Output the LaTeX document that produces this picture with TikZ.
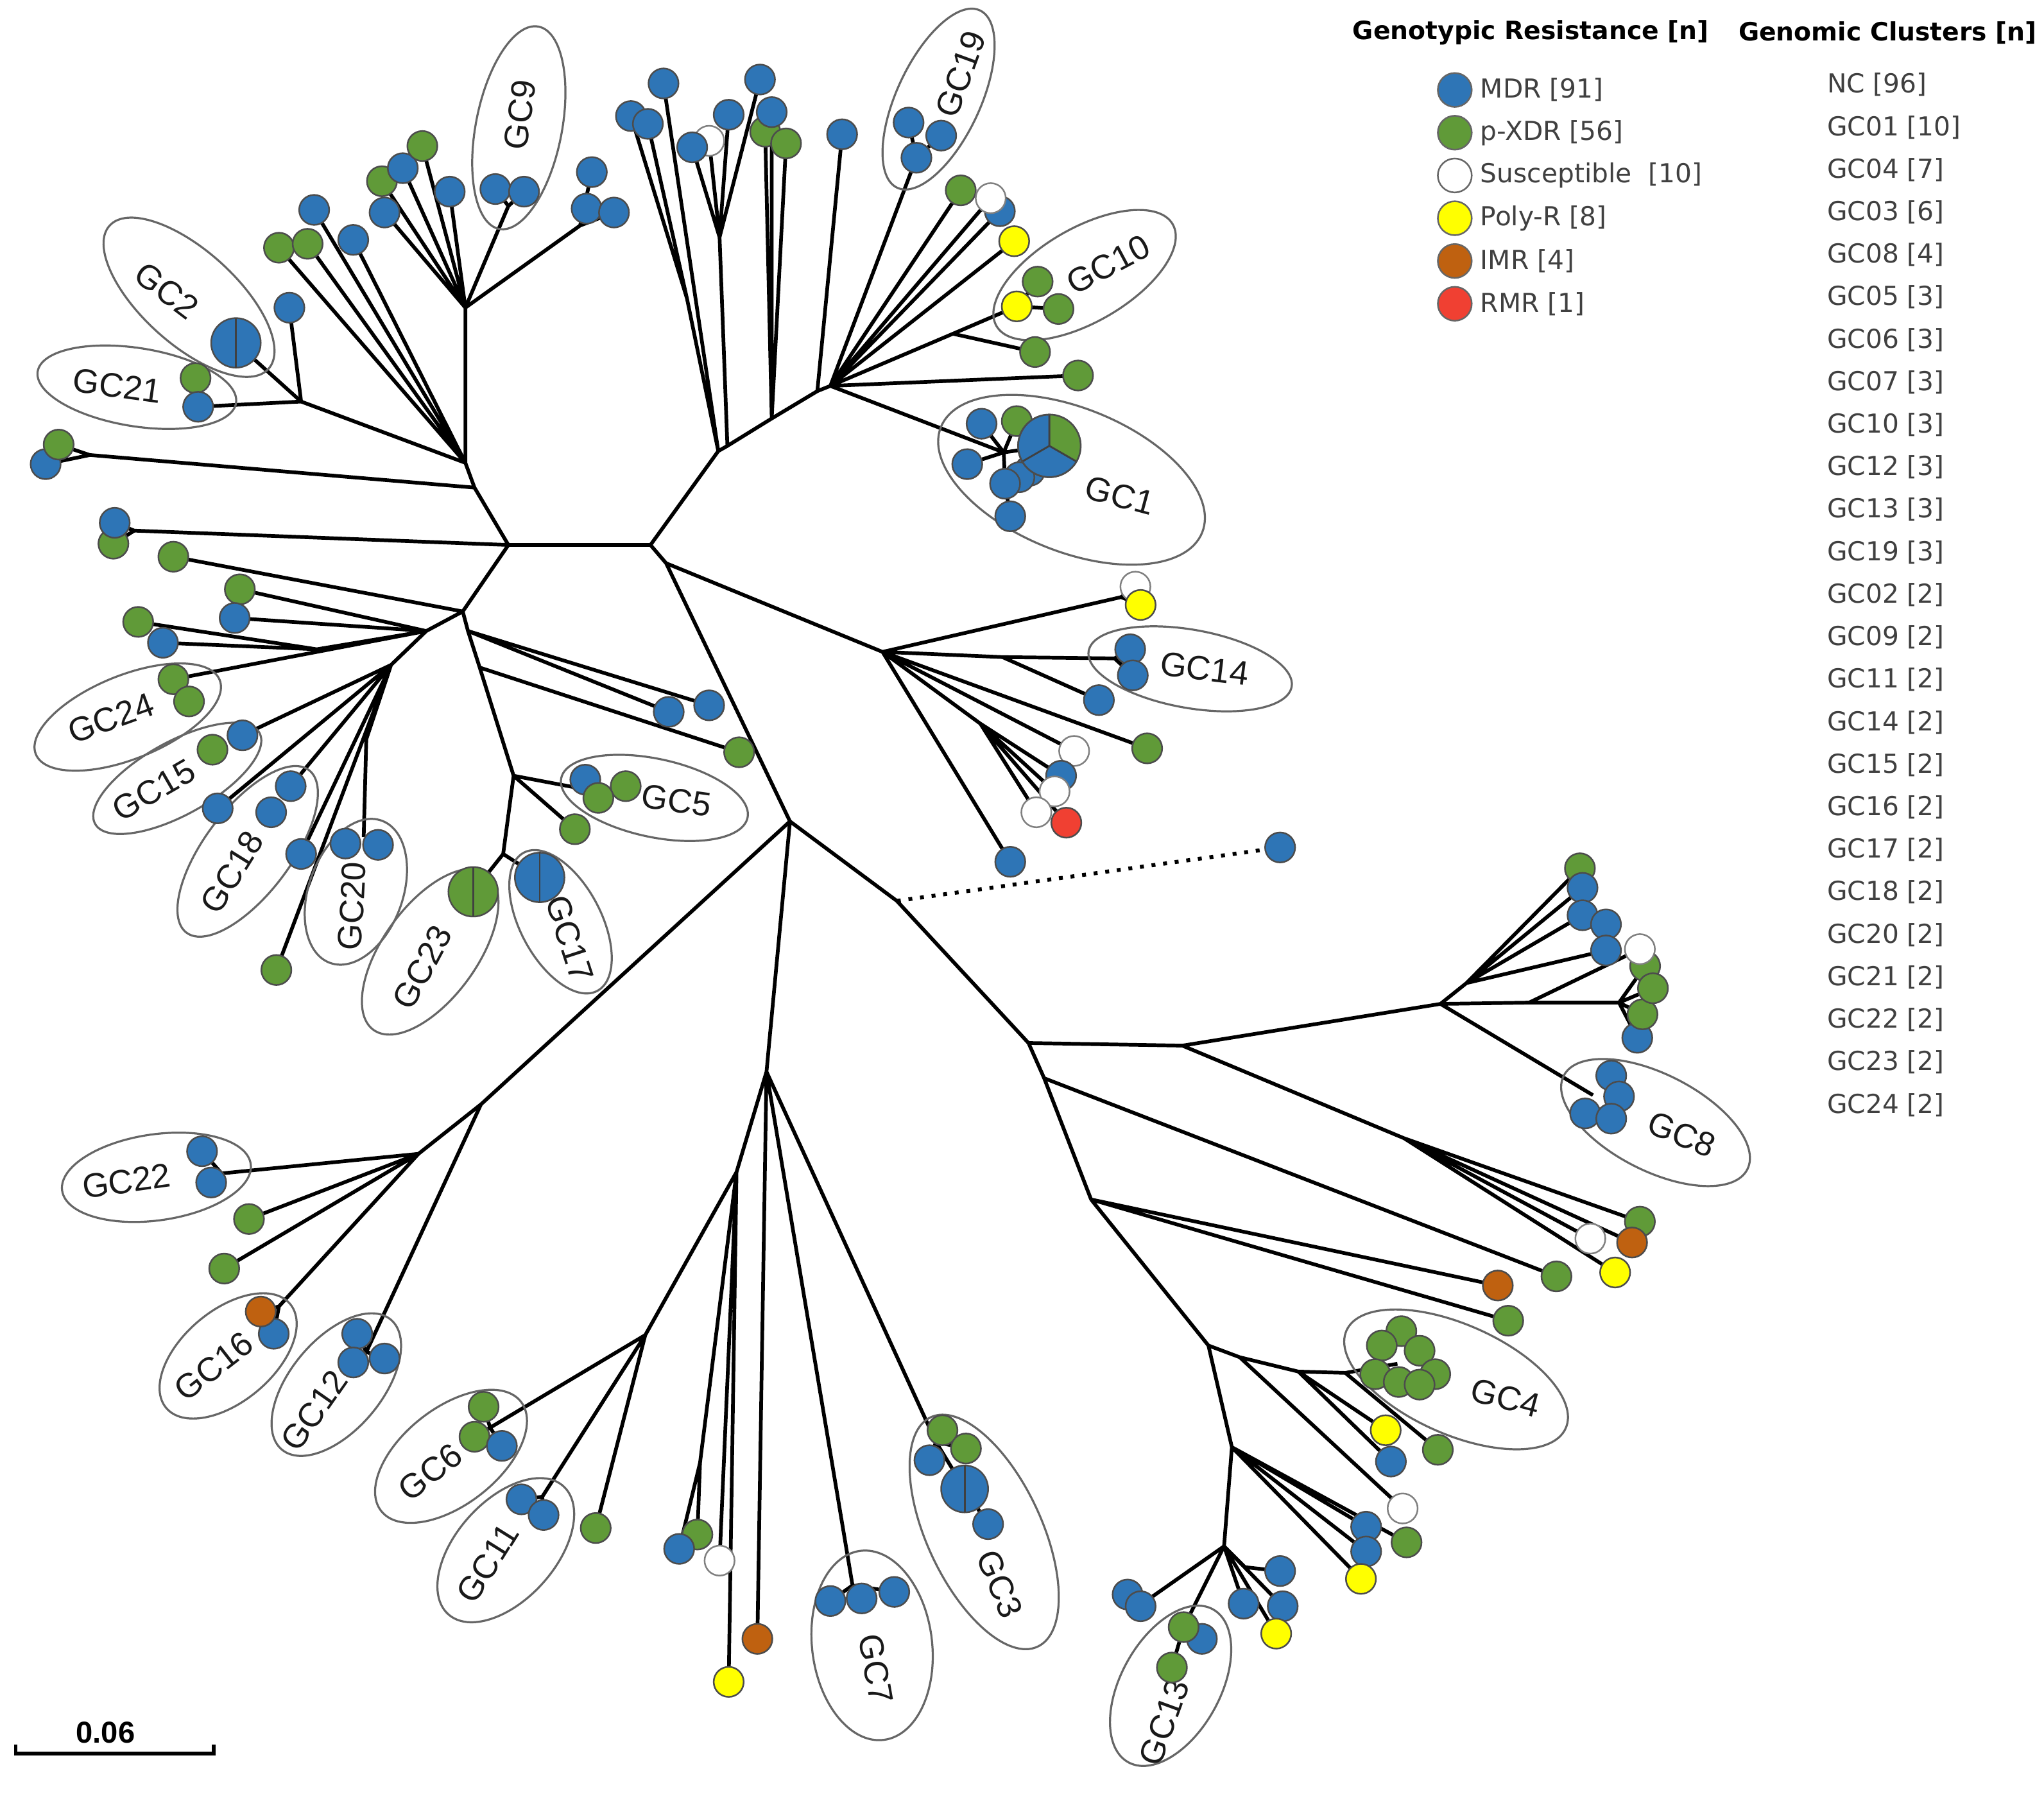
\documentclass[tikz,border=0pt]{standalone}
\usepackage{fontspec}
\setmainfont{Liberation Sans}
\newfontfamily\legfont{DejaVu Sans}
\usetikzlibrary{shapes.geometric,calc}
\pgfdeclarelayer{edgelayer}
\pgfsetlayers{edgelayer,main}
\definecolor{mdr}{RGB}{46,117,182}
\definecolor{pxdr}{RGB}{96,154,56}
\definecolor{polyr}{RGB}{255,255,0}
\definecolor{imr}{RGB}{191,97,16}
\definecolor{rmr}{RGB}{240,64,50}
\begin{document}
\begin{tikzpicture}[x=0.01cm,y=-0.01cm,
  tip/.style={circle,draw=black!70,line width=0.35pt,minimum size=0.23cm,inner sep=0pt,outer sep=0pt},
  mdrtip/.style={tip,fill=mdr},
  xdrtip/.style={tip,fill=pxdr},
  sustip/.style={tip,fill=white,draw=black!50},
  polytip/.style={tip,fill=polyr},
  imrtip/.style={tip,fill=imr},
  rmrtip/.style={tip,fill=rmr},
  pienode/.style={circle,draw=black!70,line width=0.35pt,inner sep=0pt,outer sep=0pt},
  divider/.style={black!75,line width=0.4pt},
  br/.style={line width=0.8pt,black},
  gcring/.style={draw=black!60,line width=0.45pt},
  gclab/.style={font=\fontsize{7.4}{8}\selectfont,text=black!90,inner sep=0pt},
  legdot/.style={circle,draw=black!60,line width=0.35pt,minimum size=0.26cm,inner sep=0pt},
  legtxt/.style={font=\legfont\fontsize{5.7}{6.5}\selectfont,text=black!75,anchor=west,inner sep=0pt},
  legtitle/.style={font=\legfont\bfseries\fontsize{5.5}{6.5}\selectfont,text=black,anchor=west,inner sep=0pt},
]
\useasboundingbox (0,0) rectangle (1568,1376);

% ---------------- cluster ellipses (drawn shapes) ----------------
\foreach \cx/\cy/\rx/\ry/\ang in {
  398/98/0.79/0.33/79, 145/228/0.82/0.36/-42, 105/297/0.77/0.30/-9,
  720/76/0.75/0.32/65, 832/211/0.78/0.36/30, 822/368/1.08/0.55/-22,
  913/513/0.79/0.30/-10, 502/612/0.73/0.30/-12, 430/707/0.60/0.31/-62,
  330/730/0.74/0.36/54, 273/684/0.58/0.36/70, 190/653/0.78/0.33/53,
  136/597/0.72/0.28/29, 98/550/0.76/0.32/22, 120/903/0.73/0.33/8,
  175/1040/0.62/0.35/40, 258/1062/0.65/0.35/50, 346/1117/0.68/0.37/38,
  388/1189/0.66/0.38/48, 669/1262/0.73/0.46/-83, 755/1175/0.97/0.44/-65,
  898/1293/0.67/0.38/61, 1270/861/0.79/0.37/-27, 1117/1058/0.92/0.42/-24}
{\draw[gcring,rotate around={\ang:(\cx,\cy)}] (\cx,\cy) ellipse[x radius=\rx cm,y radius=\ry cm];}

\foreach \nm/\lx/\ly/\la in {
  GC9/399/88/82, GC2/128/223/-37, GC21/90/296/-8, GC19/737/57/70, GC10/850/203/28,
  GC1/859/380/-15, GC14/924/513/-7, GC5/519/614/-8, GC17/437/720/-72, GC23/324/742/62,
  GC20/270/695/87, GC18/178/669/58, GC15/118/606/30, GC24/85/551/20, GC22/97/906/8,
  GC16/164/1048/38, GC12/241/1082/55, GC6/330/1129/38, GC11/374/1199/58, GC7/672/1280/-80,
  GC3/767/1215/-68, GC13/893/1321/70, GC8/1290/870/-22, GC4/1155/1072/-15}
{\node[gclab,rotate=\la] (l\nm) at (\lx,\ly) {\nm};}

% ---------------- internal vertices ----------------
\coordinate (h1a) at (357,236); \coordinate (s9) at (390,158); \coordinate (s8x) at (445,173);
\coordinate (h1) at (357,355); \coordinate (s2) at (231,308); \coordinate (slp) at (69,349);
\coordinate (h1b) at (364,374); \coordinate (n1) at (390,418); \coordinate (lp2) at (103,407);
\coordinate (n3) at (355,469); \coordinate (s25) at (243,498); \coordinate (n4) at (327,484);
\coordinate (n5) at (300,510); \coordinate (s20) at (281,567); \coordinate (s20b) at (279,642);
\coordinate (n3b) at (359,484); \coordinate (n3c) at (368,512); \coordinate (n6) at (394,595);
\coordinate (s5) at (452,606); \coordinate (n7) at (386,655);
\coordinate (n2) at (499,418); \coordinate (n8) at (551,346); \coordinate (t1c) at (527,229);
\coordinate (p1) at (558,342); \coordinate (t2c) at (552,182); \coordinate (p2) at (592,321);
\coordinate (n10) at (627,300); \coordinate (n11) at (637,296); \coordinate (s10b) at (731,256);
\coordinate (s1) at (770,347);
\coordinate (n9) at (511,432); \coordinate (n14) at (677,500); \coordinate (s14a) at (860,458);
\coordinate (s14b) at (855,505); \coordinate (s14c) at (769,504); \coordinate (p7) at (752,555);
\coordinate (n15) at (606,630); \coordinate (n15b) at (688,691); \coordinate (n16) at (789,800);
\coordinate (n23) at (907,802); \coordinate (n22) at (1105,770); \coordinate (s8a) at (1125,754);
\coordinate (s8b) at (1173,769); \coordinate (s8c) at (1242,769); \coordinate (s8d) at (1222,840);
\coordinate (n25) at (1077,873); \coordinate (n26) at (801,827); \coordinate (n24) at (837,920);
\coordinate (n27) at (927,1032); \coordinate (p3) at (951,1041); \coordinate (p4) at (996,1052);
\coordinate (p5) at (1032,1053); \coordinate (gc4h) at (1072,1046); \coordinate (p6) at (945,1110);
\coordinate (n28) at (939,1186); \coordinate (s13a) at (955,1202); \coordinate (s13b) at (882,1226);
\coordinate (n18) at (588,822); \coordinate (n18a) at (565,899); \coordinate (sb) at (537,1122);
\coordinate (s7) at (654,1216); \coordinate (s3) at (718,1106); \coordinate (n21) at (495,1024);
\coordinate (s6) at (376,1095); \coordinate (s11) at (416,1148); \coordinate (n19) at (369,847);
\coordinate (n20) at (321,885); \coordinate (s22) at (170,900); \coordinate (s16) at (214,1002);
\coordinate (s12) at (281,1037);

% ---------------- tips ----------------
% upper-left fan
\node[xdrtip] (t1) at (293,139) {};
\node[mdrtip] (t2) at (295,163) {};
\node[mdrtip] (t3) at (309,129) {};
\node[xdrtip] (t4) at (324,112) {};
\node[mdrtip] (t5) at (345,147) {};
\node[mdrtip] (t6) at (380,145) {};
\node[mdrtip] (t7) at (402,147) {};
\node[mdrtip] (t8) at (454,132) {};
\node[mdrtip] (t9) at (450,160) {};
\node[mdrtip] (t10) at (471,163) {};
\node[mdrtip] (t11) at (241,161) {};
\node[xdrtip] (t12) at (214,190) {};
\node[xdrtip] (t13) at (236,187) {};
\node[mdrtip] (t14) at (271,184) {};
\node[mdrtip] (t15) at (222,236) {};
\node[xdrtip] (t16) at (150,290) {};
\node[mdrtip] (t17) at (152,312) {};
\node[mdrtip] (t19) at (35,356) {};
\node[xdrtip] (t18) at (45,341) {};
% left fan
\node[xdrtip] (t21) at (87,417) {};
\node[mdrtip] (t20) at (88,401) {};
\node[xdrtip] (t22) at (133,427) {};
\node[xdrtip] (t23) at (184,452) {};
\node[mdrtip] (t24) at (180,474) {};
\node[xdrtip] (t25) at (106,477) {};
\node[mdrtip] (t26) at (125,493) {};
\node[xdrtip] (t27) at (133,521) {};
\node[xdrtip] (t28) at (145,538) {};
\node[mdrtip] (t29) at (186,564) {};
\node[xdrtip] (t30) at (163,575) {};
\node[mdrtip] (t31) at (167,620) {};
\node[mdrtip] (t32) at (223,603) {};
\node[mdrtip] (t33) at (208,623) {};
\node[mdrtip] (t34) at (231,655) {};
\node[mdrtip] (t35) at (265,647) {};
\node[mdrtip] (t36) at (290,648) {};
\node[xdrtip] (t37) at (212,744) {};
% middle
\node[mdrtip] (t38) at (513,546) {};
\node[mdrtip] (t39) at (544,541) {};
\node[xdrtip] (t40) at (567,577) {};
\node[mdrtip] (t41) at (449,598) {};
\node[xdrtip] (t43) at (480,603) {};
\node[xdrtip] (t42) at (459,612) {};
\node[xdrtip] (t44) at (441,636) {};
% top fan
\node[mdrtip] (t45) at (484,89) {};
\node[mdrtip] (t46) at (497,95) {};
\node[mdrtip] (t47) at (509,64) {};
\node[sustip] (t49) at (544,108) {};
\node[mdrtip] (t48) at (531,113) {};
\node[mdrtip] (t50) at (559,88) {};
\node[mdrtip] (t51) at (583,61) {};
\node[xdrtip] (t53) at (587,101) {};
\node[mdrtip] (t52) at (592,86) {};
\node[xdrtip] (t54) at (603,110) {};
\node[mdrtip] (t55) at (646,103) {};
\node[mdrtip] (t56) at (697,94) {};
\node[mdrtip] (t57) at (722,104) {};
\node[mdrtip] (t58) at (703,121) {};
\node[xdrtip] (t59) at (737,146) {};
\node[mdrtip] (t61) at (767,162) {};
\node[sustip] (t60) at (760,152) {};
\node[polytip] (t62) at (778,185) {};
\node[xdrtip] (t64) at (796,216) {};
\node[polytip] (t63) at (780,235) {};
\node[xdrtip] (t65) at (812,237) {};
\node[xdrtip] (t66) at (794,270) {};
\node[xdrtip] (t67) at (827,288) {};
% GC1
\node[mdrtip] (t68) at (753,325) {};
\node[xdrtip] (t69) at (780,323) {};
\node[mdrtip] (t70) at (742,356) {};
\node[mdrtip] (t73) at (790,361) {};
\node[mdrtip] (t72) at (782,366) {};
\node[pienode,fill=mdr,minimum size=0.48cm] (gc1pie) at (805,342) {};
\fill[pxdr] (gc1pie.center) -- (gc1pie.90) arc[start angle=90,end angle=-30,radius=0.24cm] -- cycle;
\draw[divider] (gc1pie.center) -- (gc1pie.90) (gc1pie.center) -- (gc1pie.-30) (gc1pie.center) -- (gc1pie.210);
\draw[black!70,line width=0.35pt] (gc1pie.center) circle[radius=0.24cm];
\node[mdrtip] (t71) at (771,371) {};
\node[mdrtip] (t74) at (775,396) {};
% GC14 fan
\node[sustip] (t75) at (871,450) {};
\node[polytip] (t76) at (875,464) {};
\node[mdrtip] (t77) at (867,498) {};
\node[mdrtip] (t78) at (869,518) {};
\node[mdrtip] (t79) at (843,537) {};
\node[xdrtip] (t80) at (880,574) {};
\node[sustip] (t81) at (824,576) {};
\node[mdrtip] (t82) at (814,595) {};
\node[sustip] (t83) at (809,607) {};
\node[sustip] (t84) at (795,623) {};
\node[rmrtip] (t85) at (818,631) {};
\node[mdrtip] (t86) at (775,661) {};
\node[mdrtip] (t87) at (982,650) {};
% GC8 side
\node[xdrtip] (t88) at (1212,666) {};
\node[mdrtip] (t89) at (1214,681) {};
\node[mdrtip] (t90) at (1214,702) {};
\node[mdrtip] (t91) at (1232,709) {};
\node[mdrtip] (t92) at (1232,729) {};
\node[mdrtip] (t97) at (1256,796) {};
\node[xdrtip] (t96) at (1260,778) {};
\node[xdrtip] (t94) at (1262,741) {};
\node[xdrtip] (t95) at (1268,758) {};
\node[sustip] (t93) at (1258,728) {};
\node[mdrtip] (t98) at (1236,825) {};
\node[mdrtip] (t99) at (1242,841) {};
\node[mdrtip] (t100) at (1216,854) {};
\node[mdrtip] (t101) at (1236,858) {};
\node[xdrtip] (t102) at (1258,937) {};
\node[imrtip] (t104) at (1252,953) {};
\node[sustip] (t103) at (1220,950) {};
\node[polytip] (t105) at (1239,976) {};
\node[xdrtip] (t106) at (1194,979) {};
\node[imrtip] (t107) at (1149,986) {};
\node[xdrtip] (t108) at (1157,1013) {};
% GC4 side
\node[xdrtip] (g41) at (1075,1021) {};
\node[xdrtip] (g42) at (1060,1032) {};
\node[xdrtip] (g43) at (1089,1036) {};
\node[xdrtip] (g44) at (1101,1054) {};
\node[xdrtip] (g45) at (1055,1054) {};
\node[xdrtip] (g46) at (1073,1060) {};
\node[xdrtip] (g47) at (1089,1062) {};
\node[sustip] (t109) at (1076,1157) {};
\node[mdrtip] (t111) at (1067,1121) {};
\node[polytip] (t110) at (1063,1097) {};
\node[xdrtip] (t112) at (1103,1112) {};
\node[mdrtip] (t113) at (1048,1171) {};
\node[mdrtip] (t114) at (1048,1190) {};
\node[xdrtip] (t115) at (1079,1183) {};
\node[polytip] (t116) at (1044,1211) {};
% GC13 fan
\node[mdrtip] (t117) at (982,1205) {};
\node[mdrtip] (t118) at (954,1230) {};
\node[mdrtip] (t119) at (984,1232) {};
\node[polytip] (t120) at (979,1253) {};
\node[mdrtip] (t121) at (865,1223) {};
\node[mdrtip] (t122) at (875,1232) {};
\node[mdrtip] (t124) at (922,1257) {};
\node[xdrtip] (t123) at (908,1248) {};
\node[xdrtip] (t125) at (899,1279) {};
% bottom fan
\node[xdrtip] (t127) at (535,1177) {};
\node[mdrtip] (t126) at (521,1188) {};
\node[sustip] (t128) at (552,1197) {};
\node[polytip] (t129) at (559,1290) {};
\node[imrtip] (t130) at (581,1257) {};
\node[mdrtip] (t131) at (637,1228) {};
\node[mdrtip] (t132) at (661,1226) {};
\node[mdrtip] (t133) at (686,1221) {};
\node[xdrtip] (t134) at (723,1097) {};
\node[xdrtip] (t135) at (741,1111) {};
\node[mdrtip] (t136) at (713,1120) {};
\node[pienode,fill=mdr,minimum size=0.36cm] (gc3pie) at (740,1142) {};
\draw[divider] (gc3pie.north) -- (gc3pie.south);
\node[mdrtip] (t137) at (758,1169) {};
% GC6 / GC11
\node[xdrtip] (t138) at (371,1079) {};
\node[xdrtip] (t139) at (364,1102) {};
\node[mdrtip] (t140) at (385,1109) {};
\node[mdrtip] (t141) at (400,1150) {};
\node[mdrtip] (t142) at (417,1162) {};
\node[xdrtip] (t143) at (457,1172) {};
% GC22 / GC16 / GC12
\node[mdrtip] (t144) at (155,883) {};
\node[mdrtip] (t145) at (162,907) {};
\node[xdrtip] (t146) at (191,935) {};
\node[xdrtip] (t147) at (172,973) {};
\node[mdrtip] (t149) at (210,1023) {};
\node[imrtip] (t148) at (200,1006) {};
\node[mdrtip] (t150) at (274,1023) {};
\node[mdrtip] (t151) at (271,1045) {};
\node[mdrtip] (t152) at (295,1042) {};
% pies
\node[pienode,fill=mdr,minimum size=0.38cm] (gc2pie) at (181,263) {};
\draw[divider] (gc2pie.north) -- (gc2pie.south);
\node[pienode,fill=pxdr,minimum size=0.38cm] (gc23pie) at (363,684) {};
\draw[divider] (gc23pie.north) -- (gc23pie.south);
\node[pienode,fill=mdr,minimum size=0.38cm] (gc17pie) at (414,673) {};
\draw[divider] (gc17pie.north) -- (gc17pie.south);

% ---------------- branches ----------------
\begin{pgfonlayer}{edgelayer}
\draw[br]
  (h1a) -- (t1) (h1a) -- (t2) (h1a) -- (t3) (h1a) -- (t4) (h1a) -- (t5)
  (h1a) -- (s9) (s9) -- (t6) (s9) -- (t7)
  (h1a) -- (s8x) (s8x) -- (t8) (s8x) -- (t9) (s8x) -- (t10)
  (h1) -- (h1a) (h1) -- (t11) (h1) -- (t12) (h1) -- (t13) (h1) -- (t14)
  (h1) -- (s2) (s2) -- (gc2pie) (s2) -- (t15) (s2) -- (t17)
  (h1) -- (h1b) (h1b) -- (slp) (slp) -- (t18) (slp) -- (t19) (h1b) -- (n1)
  (n1) -- (lp2) (lp2) -- (t20) (lp2) -- (t21)
  (n1) -- (n3) (n3) -- (t22) (n3) -- (n4) (n4) -- (n5)
  (n4) -- (t23) (n4) -- (t24) (n4) -- (s25) (s25) -- (t25) (s25) -- (t26) (n4) -- (t27)
  (n5) -- (t29) (n5) -- (t31) (n5) -- (t32) (n5) -- (t34) (n5) -- (s20) -- (s20b) (n5) -- (t37)
  (n3) -- (n3b) -- (n3c) -- (n6) (n3b) -- (t38) (n3b) -- (t39) (n3c) -- (t40)
  (n6) -- (s5) (n6) -- (t44) (n6) -- (n7) (n7) -- (gc23pie) (n7) -- (gc17pie)
  (n1) -- (n2) (n2) -- (n8) (n8) -- (p1) -- (p2) -- (n10) -- (n11)
  (n8) -- (t1c) (t1c) -- (t45) (t1c) -- (t46) (n8) -- (t47)
  (p1) -- (t2c) (t2c) -- (t48) (t2c) -- (t49) (t2c) -- (t50) (t2c) -- (t51)
  (p2) -- (t52) (p2) -- (t53) (p2) -- (t54) (n10) -- (t55)
  (n11) -- (t58) (t58) -- (t56) (t58) -- (t57)
  (n11) -- (t59) (n11) -- (t60) (n11) -- (t61) (n11) -- (t62)
  (n11) -- (s10b) -- (t63) (t63) -- (t65) (t63) -- (t64) (s10b) -- (t66) (n11) -- (t67)
  (n11) -- (s1) (s1) -- (t68) (s1) -- (t69) (s1) -- (t70) (s1) -- (gc1pie) (s1) -- (t71) (t71) -- (t74)
  (n2) -- (n9) (n9) -- (n14) (n9) -- (n15)
  (n14) -- (s14a) (s14a) -- (t75) (s14a) -- (t76)
  (n14) -- (s14c) -- (s14b) (s14b) -- (t77) (s14b) -- (t78) (s14c) -- (t79)
  (n14) -- (t80) (n14) -- (t81) (n14) -- (p7) (p7) -- (t82) (p7) -- (t83) (p7) -- (t84) (p7) -- (t85)
  (n14) -- (t86)
  (n15) -- (n15b) -- (n16) (n16) -- (n23) -- (n22)
  (n22) -- (s8a) (s8a) -- (t88) (s8a) -- (t89) (s8a) -- (t90) (s8a) -- (t92)
  (n22) -- (s8b) (s8b) -- (t93) (s8b) -- (s8c) (s8c) -- (t94) (s8c) -- (t95) (s8c) -- (t96) (s8c) -- (t97)
  (n22) -- (s8d)
  (n23) -- (n25) (n25) -- (t102) (n25) -- (t103) (n25) -- (t104) (n25) -- (t105)
  (n16) -- (n26) (n26) -- (t106) (n26) -- (n24) (n24) -- (t107) (n24) -- (t108)
  (n24) -- (n27) (n27) -- (p3) -- (p4) -- (p5) -- (gc4h) (p3) -- (t109)
  (p4) -- (t110) (p4) -- (t111) (p5) -- (t112)
  (n27) -- (p6) -- (n28) (p6) -- (t113) (p6) -- (t114) (p6) -- (t115) (p6) -- (t116)
  (n28) -- (s13a) -- (t117) (n28) -- (t118) (n28) -- (t119) (n28) -- (t120)
  (n28) -- (s13b) (s13b) -- (t121) (s13b) -- (t122) (n28) -- (t123) (t123) -- (t125)
  (n15) -- (n18) (n18) -- (n18a) -- (n21)
  (n18a) -- (sb) (sb) -- (t126) (sb) -- (t127) (n18a) -- (t128) (n18a) -- (t129)
  (n18) -- (t130) (n18) -- (s7) (s7) -- (t131) (s7) -- (t132) (s7) -- (t133)
  (n18) -- (s3) (s3) -- (t134) (s3) -- (t135) (s3) -- (t136) (s3) -- (gc3pie) (gc3pie) -- (t137)
  (n21) -- (s6) (s6) -- (t138) (s6) -- (t139) (s6) -- (t140)
  (n21) -- (s11) (s11) -- (t141) (s11) -- (t142) (n21) -- (t143)
  (n15) -- (n19) -- (n20)
  (n20) -- (s22) (s22) -- (t144) (s22) -- (t145) (n20) -- (t146) (n20) -- (t147)
  (n20) -- (s16) (s16) -- (t148) (s16) -- (t149)
  (n19) -- (s12) (s12) -- (t150) (s12) -- (t151) (s12) -- (t152);
\draw[line width=0.85pt,dash pattern=on 0.85pt off 1.7pt] (n15b) -- (t87);
\end{pgfonlayer}

% ---------------- scale bar ----------------
\coordinate (sba) at (12,1345);
\coordinate (sbb) at (164,1345);
\draw[line width=0.8pt] ($(sba)+(0,-7)$) -- (sba) -- (sbb) -- ($(sbb)+(0,-7)$);
\node[font=\bfseries\fontsize{6.6}{7}\selectfont,inner sep=0pt] (sblab) at (81,1329) {0.06};

% ---------------- legend ----------------
\node[legtitle] (ttl1) at (1037,25) {Genotypic Resistance [n]};
\node[legtitle] (ttl2) at (1333,25) {Genomic Clusters [n]};
\foreach \c/\txt [count=\i from 0] in {mdr/{MDR [91]},pxdr/{p-XDR [56]},white/{Susceptible\ \ [10]},polyr/{Poly-R [8]},imr/{IMR [4]},rmr/{RMR [1]}}{
  \node[legdot,fill=\c] (ld\i) at (1116,{69+32.8*\i}) {};
  \node[legtxt] (lt\i) at (1135,{69+32.8*\i}) {\txt};
}
\foreach \txt [count=\i from 0] in {{NC [96]},{GC01 [10]},{GC04 [7]},{GC03 [6]},{GC08 [4]},{GC05 [3]},{GC06 [3]},{GC07 [3]},{GC10 [3]},{GC12 [3]},{GC13 [3]},{GC19 [3]},{GC02 [2]},{GC09 [2]},{GC11 [2]},{GC14 [2]},{GC15 [2]},{GC16 [2]},{GC17 [2]},{GC18 [2]},{GC20 [2]},{GC21 [2]},{GC22 [2]},{GC23 [2]},{GC24 [2]}}{
  \node[legtxt] (cl\i) at (1401,{65+32.6*\i}) {\txt};
}
\end{tikzpicture}
\end{document}
